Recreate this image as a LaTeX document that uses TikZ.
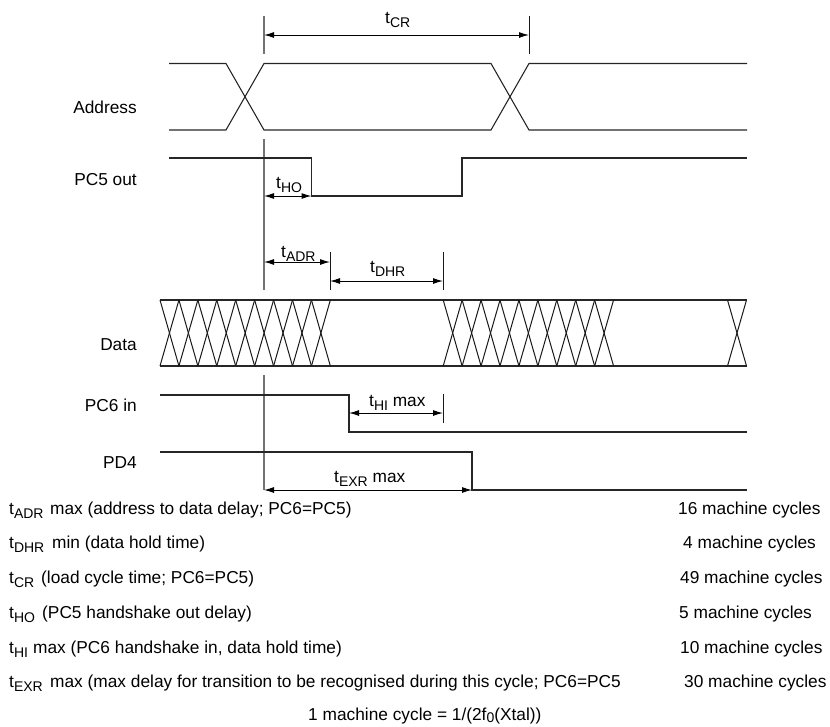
\documentclass[tikz,border=0pt]{standalone}
\usepackage{fontspec}
\setmainfont{Liberation Sans}
\usetikzlibrary{arrows.meta}
\newcommand\tsb[1]{t\raisebox{-4pt}{\fontsize{14}{14}\selectfont #1}}
\newcommand\rowlab[2]{\makebox[#1pt][l]{#2}}
\tikzset{
  sig/.style={line width=1.1pt,black!85},
  guide/.style={line width=1.3pt,black!55},
  tick/.style={line width=1pt,black!90},
  dim/.style={line width=1pt,black,{Latex[length=10pt,width=6pt]}-{Latex[length=10pt,width=6pt]}},
  lab/.style={inner sep=0pt,anchor=base east,font=\fontsize{17.3}{19}\selectfont},
  tm/.style={inner sep=0pt,anchor=base west,font=\fontsize{17.3}{19}\selectfont},
}
\begin{document}
\begin{tikzpicture}[x=1pt,y=-1pt]
\useasboundingbox (0,0) rectangle (830,726);
% guides
\coordinate (g0t) at (264,16); \coordinate (g0b) at (264,54);
\coordinate (g1t) at (264,139); \coordinate (g1b) at (264,290);
\coordinate (g2t) at (264,375); \coordinate (g2b) at (264,490);
\draw[guide] (g0t) -- (g0b);
\draw[guide] (g1t) -- (g1b);
\draw[guide] (g2t) -- (g2b);
\coordinate (crt) at (529,16); \coordinate (crb) at (529,54);
\coordinate (adt) at (330,252); \coordinate (adb) at (330,290);
\coordinate (dht) at (443,252); \coordinate (dhb) at (443,290);
\coordinate (hit) at (443,394); \coordinate (hib) at (443,423);
\draw[tick] (crt) -- (crb);
\draw[tick] (adt) -- (adb);
\draw[tick] (dht) -- (dhb);
\draw[tick] (hit) -- (hib);
% Address
\draw[sig] (169,63.5) -- (226,63.5) -- (264,130) -- (491,130) -- (529,63.5) -- (747,63.5);
\draw[sig] (169,130) -- (226,130) -- (264,63.5) -- (491,63.5) -- (529,130) -- (747,130);
% PC5
\coordinate (ho) at (311.5,196);
\draw[sig] (169,158) -- (311.5,158) -- (ho) -- (462,196) -- (462,158) -- (747,158);
% Data
\draw[sig] (160,300) -- (746.5,300);
\draw[sig] (160,366) -- (746.5,366);
\foreach \s in {160,443.2}{
  \foreach \i in {0,...,8}{
    \draw[tick] ({\s+\i*18.93},300) -- ({\s+(\i+1)*18.93},366);
    \draw[tick] ({\s+\i*18.93},366) -- ({\s+(\i+1)*18.93},300);
  }
}
\draw[tick] (727.5,300) -- (746.5,366);
\draw[tick] (727.5,366) -- (746.5,300);
% PC6
\coordinate (hia) at (349,413);
\draw[sig] (160,395) -- (349,395) -- (349,432) -- (747,432);
% PD4
\coordinate (ex) at (472,490);
\draw[sig] (160,452) -- (472,452) -- (ex) -- (747,490);
% dimensions
\draw[dim] (264,35) -- (529,35);
\draw[dim] (264,196) -- (ho);
\draw[dim] (264,262) -- (330,262);
\draw[dim] (330,281) -- (443,281);
\draw[dim] (hia) -- (443,413);
\draw[dim] (264,490) -- (ex);
% signal labels
\node[lab] (lAddr) at (137,113) {Address};
\node[lab] (lPC5) at (137,185) {PC5 out};
\node[lab] (lData) at (137,350) {Data};
\node[lab] (lPC6) at (137,411) {PC6 in};
\node[lab] (lPD4) at (137,468) {PD4};
% timing labels
\node[tm] (tCR) at (385,23) {\tsb{CR}};
\node[tm] (tHO) at (276,188) {\tsb{HO}};
\node[tm] (tADR) at (281,257) {\tsb{ADR}};
\node[tm] (tDHR) at (370,272) {\tsb{DHR}};
\node[tm] (tHI) at (369,406) {\tsb{HI} max};
\node[tm] (tEXR) at (334,482) {\tsb{EXR} max};
% table
\node[tm] (r1) at (9,514) {\rowlab{41}{\tsb{ADR}}max (address to data delay; PC6=PC5)};
\node[tm] (r2) at (9,548) {\rowlab{43}{\tsb{DHR}}min (data hold time)};
\node[tm] (r3) at (9,583) {\rowlab{32}{\tsb{CR}}(load cycle time; PC6=PC5)};
\node[tm] (r4) at (9,618) {\rowlab{33}{\tsb{HO}}(PC5 handshake out delay)};
\node[tm] (r5) at (9,653) {\rowlab{24}{\tsb{HI}}max (PC6 handshake in, data hold time)};
\node[tm] (r6) at (9,687) {\rowlab{41}{\tsb{EXR}}max (max delay for transition to be recognised during this cycle; PC6=PC5};
\node[tm] (c1) at (678,514) {16 machine cycles};
\node[tm] (c2) at (683,548) {4 machine cycles};
\node[tm] (c3) at (680,583) {49 machine cycles};
\node[tm] (c4) at (679,618) {5 machine cycles};
\node[tm] (c5) at (680,653) {10 machine cycles};
\node[tm] (c6) at (684,687) {30 machine cycles};
\node[tm] (foot) at (308,720) {1 machine cycle = 1/(2f\raisebox{-2.5pt}{\fontsize{14}{14}\selectfont 0}(Xtal))};
\end{tikzpicture}
\end{document}
